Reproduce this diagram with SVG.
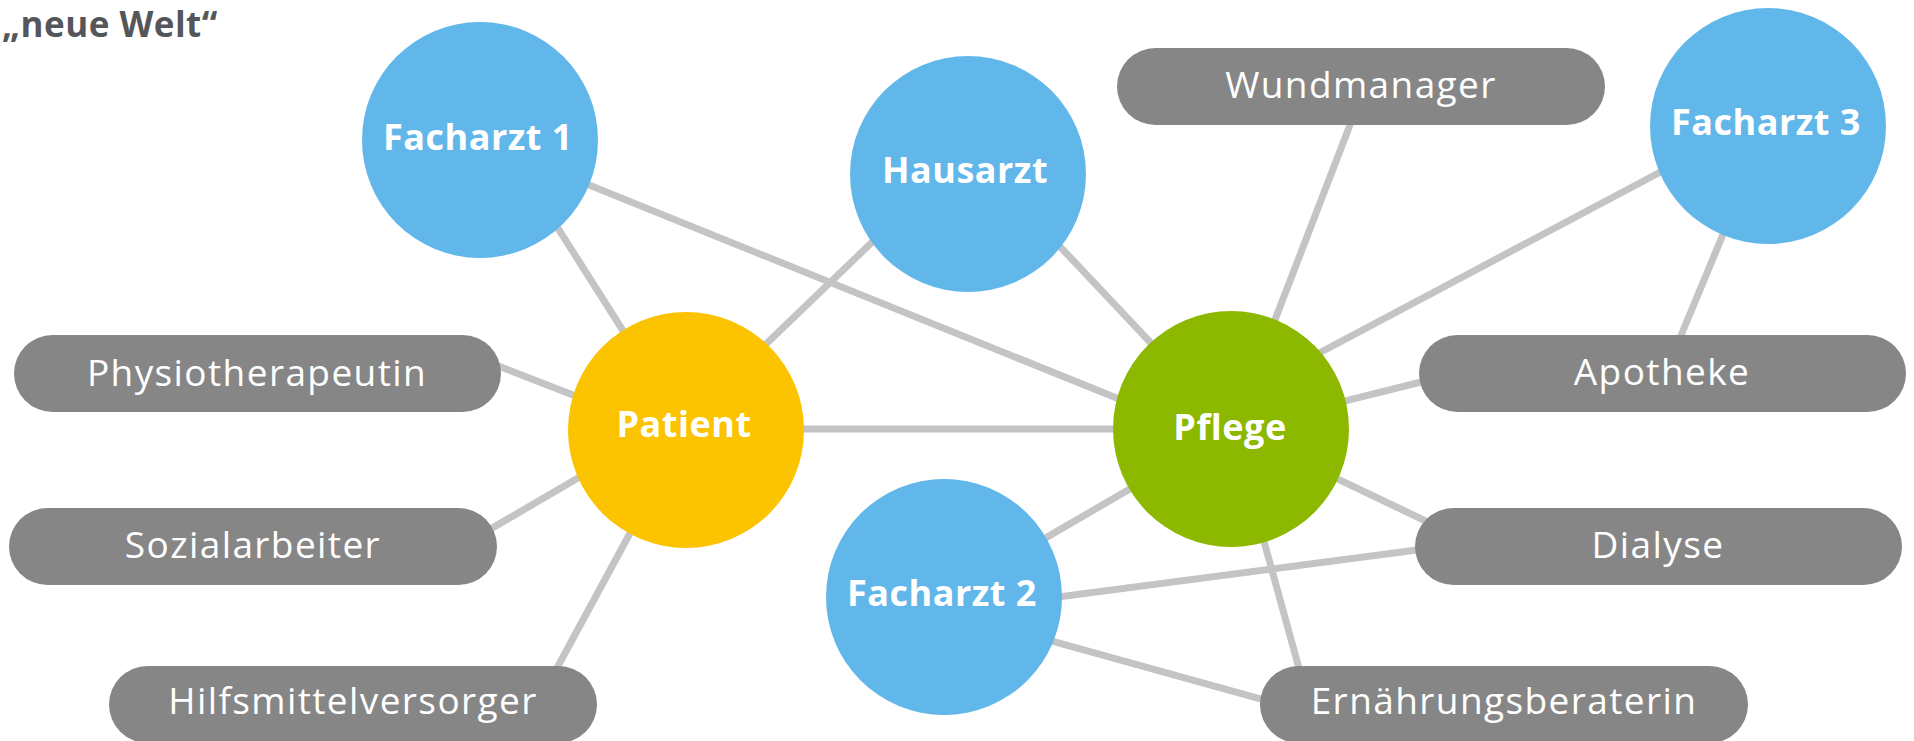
<svg xmlns="http://www.w3.org/2000/svg" width="1914" height="741" viewBox="0 0 1914 741">
<style>
.bg{fill:#ffffff}
.ln{stroke:#c4c4c4;stroke-width:7;fill:none}
.blue{fill:#62b7ea}
.yellow{fill:#fbc300}
.green{fill:#8cb800}
.pill{fill:#868686}
.ct{font-family:"Open Sans","DejaVu Sans",sans-serif;font-weight:700;font-size:36px;fill:#ffffff;text-anchor:middle;letter-spacing:0.5px}
.pt{font-family:"Open Sans","DejaVu Sans",sans-serif;font-weight:400;font-size:37px;fill:#ffffff;text-anchor:middle;letter-spacing:1.4px}
.title{font-family:"Open Sans","DejaVu Sans",sans-serif;font-weight:700;font-size:35px;fill:#55565a;letter-spacing:0.5px}
</style>
<rect class="bg" x="0" y="0" width="1914" height="741"/>
<text class="title" x="2" y="37">&#8222;neue Welt&#8220;</text>
<g id="connectors">
<line class="ln" x1="502" y1="140" x2="686" y2="430"/>
<line class="ln" x1="480" y1="141" x2="1233" y2="445"/>
<line class="ln" x1="968" y1="150" x2="686" y2="421"/>
<line class="ln" x1="968" y1="149" x2="1233" y2="430"/>
<line class="ln" x1="470" y1="355" x2="686" y2="439"/>
<line class="ln" x1="470" y1="541" x2="686" y2="415"/>
<line class="ln" x1="545" y1="690" x2="686" y2="430"/>
<line class="ln" x1="686" y1="429" x2="1233" y2="429"/>
<line class="ln" x1="1365" y1="86" x2="1233" y2="429"/>
<line class="ln" x1="1768" y1="115" x2="1240" y2="395"/>
<line class="ln" x1="1768" y1="126" x2="1675" y2="350"/>
<line class="ln" x1="1457" y1="373" x2="1233" y2="429"/>
<line class="ln" x1="1233" y1="429" x2="1455" y2="535"/>
<line class="ln" x1="1233" y1="429" x2="944" y2="597"/>
<line class="ln" x1="944" y1="612" x2="1455" y2="545"/>
<line class="ln" x1="944" y1="611" x2="1300" y2="710"/>
<line class="ln" x1="1233" y1="429" x2="1305" y2="690"/>
</g>
<g id="facharzt1"><circle class="blue" cx="480" cy="140" r="118"/><text class="ct" x="478" y="150">Facharzt 1</text></g>
<g id="hausarzt"><circle class="blue" cx="968" cy="174" r="118"/><text class="ct" x="965" y="183">Hausarzt</text></g>
<g id="facharzt3"><circle class="blue" cx="1768" cy="126" r="118"/><text class="ct" x="1766" y="135">Facharzt 3</text></g>
<g id="patient"><circle class="yellow" cx="686" cy="430" r="118"/><text class="ct" x="684" y="437">Patient</text></g>
<g id="pflege"><circle class="green" cx="1231" cy="429" r="118"/><text class="ct" x="1230" y="440">Pflege</text></g>
<g id="facharzt2"><circle class="blue" cx="944" cy="597" r="118"/><text class="ct" x="942" y="606">Facharzt 2</text></g>
<g id="wundmanager"><rect class="pill" x="1117" y="48" width="488" height="77" rx="38.5"/><text class="pt" x="1361" y="98">Wundmanager</text></g>
<g id="physiotherapeutin"><rect class="pill" x="14" y="335" width="487" height="77" rx="38.5"/><text class="pt" x="257" y="386">Physiotherapeutin</text></g>
<g id="apotheke"><rect class="pill" x="1419" y="335" width="487" height="77" rx="38.5"/><text class="pt" x="1662" y="385">Apotheke</text></g>
<g id="sozialarbeiter"><rect class="pill" x="9" y="508" width="488" height="77" rx="38.5"/><text class="pt" x="253" y="558">Sozialarbeiter</text></g>
<g id="dialyse"><rect class="pill" x="1415" y="508" width="487" height="77" rx="38.5"/><text class="pt" x="1658" y="558">Dialyse</text></g>
<g id="hilfsmittelversorger"><rect class="pill" x="109" y="666" width="488" height="77" rx="38.5"/><text class="pt" x="353" y="714">Hilfsmittelversorger</text></g>
<g id="ernaehrungsberaterin"><rect class="pill" x="1260" y="666" width="488" height="77" rx="38.5"/><text class="pt" x="1504" y="714">Ernährungsberaterin</text></g>
</svg>
